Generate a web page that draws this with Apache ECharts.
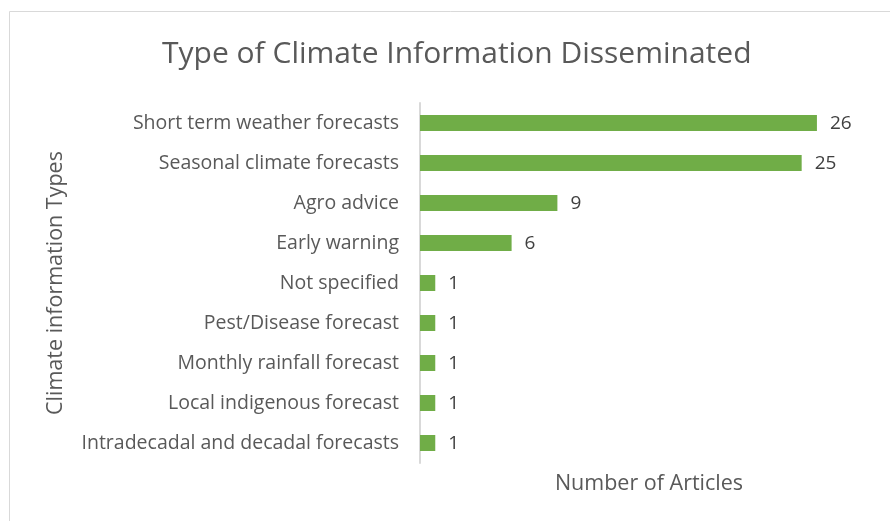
<!DOCTYPE html>
<html><head><meta charset="utf-8">
<script src="https://cdn.jsdelivr.net/npm/echarts@6/dist/echarts.min.js"></script>
<style>html,body{margin:0;padding:0;background:#fff}#c{width:890px;height:521px}</style>
</head><body><div id="c"></div>
<script>
var categories = ["Short term weather forecasts","Seasonal climate forecasts","Agro advice","Early warning","Not specified","Pest/Disease forecast","Monthly rainfall forecast","Local indigenous forecast","Intradecadal and decadal forecasts"];
var values = [26,25,9,6,1,1,1,1,1];
var FONT = "Open Sans";
var chart = echarts.init(document.getElementById('c'));
chart.setOption({
  animation:false,
  textStyle:{fontFamily:FONT},
  graphic:[{type:'rect',shape:{x:9.5,y:11.5,width:900,height:520},style:{fill:'none',stroke:'#d9d9d9',lineWidth:1},silent:true}],
  title:{text:'Type of Climate Information Disseminated',left:157,top:34,textStyle:{fontFamily:FONT,fontSize:30,fontWeight:'normal',color:'#595959'}},
  grid:{left:420,top:103,width:458,height:360},
  xAxis:{type:'value',min:0,max:30,show:true,axisLine:{show:false},axisTick:{show:false},axisLabel:{show:false},splitLine:{show:false},
    name:'Number of Articles',nameLocation:'middle',nameGap:10,nameTextStyle:{fontFamily:FONT,fontSize:21.5,color:'#595959'}},
  yAxis:{type:'category',inverse:true,data:categories,axisLine:{lineStyle:{color:'#d9d9d9',width:2}},axisTick:{show:false},
    axisLabel:{fontFamily:FONT,fontSize:19.5,color:'#595959',margin:21},
    name:'Climate information Types',nameLocation:'middle',nameGap:353,nameRotate:90,nameTextStyle:{fontFamily:FONT,fontSize:21.5,color:'#595959'}},
  series:[{type:'bar',data:values,barWidth:16,itemStyle:{color:'#70ad47'},
    label:{show:true,position:'right',distance:13,offset:[0,1],fontFamily:FONT,fontSize:19,color:'#404040'}}]
});
</script></body></html>
